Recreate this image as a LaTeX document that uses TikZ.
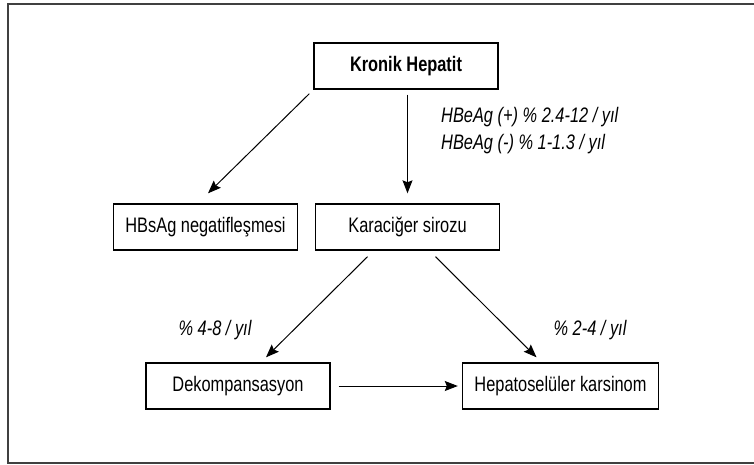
\documentclass[tikz,border=0pt]{standalone}
\usepackage{fontspec}
\setmainfont{Liberation Sans}[FakeStretch=0.78]
\usetikzlibrary{positioning,arrows.meta}

\begin{document}
\begin{tikzpicture}[x=1pt, y=-1pt,
        font=\fontsize{21}{25}\selectfont,
        kutu/.style={rectangle, draw, line width=1.4pt, minimum width=184pt, minimum height=46pt, inner sep=0pt},
        ok/.style={line width=1pt, -{Stealth[length=13pt, width=10pt, inset=2pt]}},
        oran/.style={font=\fontsize{21}{25}\selectfont\itshape, inner sep=0pt}]
        \useasboundingbox (0,0) rectangle (754,464);
        \draw[line width=2pt, color=black!75] (756,4) -- (8,4) -- (8,463) -- (756,463);

        \node[kutu, font=\fontsize{21}{25}\selectfont\bfseries] (kronik) at (406,66) {Kronik Hepatit};
        \node[kutu] (hbsag) at (205.5,227) {HBsAg negatifleşmesi};
        \node[kutu] (siroz) at (407.5,227) {Karaciğer sirozu};
        \node[kutu] (deko) at (238,386) {Dekompansasyon};
        \node[kutu, minimum width=196pt] (hcc) at (560.5,386) {Hepatoselüler karsinom};

        \node[oran, anchor=west] (hbeArti) at (441,117) {HBeAg (+) \% 2.4-12 / yıl};
        \node[oran, anchor=west] (hbeEksi) [below = 7pt of hbeArti.south west, anchor=north west] {HBeAg (-) \% 1-1.3 / yıl};
        \node[oran] (dekoOran) at (215,330) {\% 4-8 / yıl};
        \node[oran] (hccOran) at (590,330) {\% 2-4 / yıl};

        \draw ([shift={(-4,4)}]kronik.south west) edge[ok] ([shift={(2.5,-10)}]hbsag.north);
        \draw ([xshift=1.5pt]kronik.south) edge[ok, shorten <=5pt, shorten >=10pt] (siroz.north);
        \draw ([shift={(-40,6)}]siroz.south) edge[ok] ([shift={(28,-5)}]deko.north);
        \draw ([shift={(28,6)}]siroz.south) edge[ok] ([shift={(-24,-5)}]hcc.north);
        \draw (deko.east) edge[ok, shorten <=8pt, shorten >=4pt] (hcc.west);
      \end{tikzpicture}
\end{document}
